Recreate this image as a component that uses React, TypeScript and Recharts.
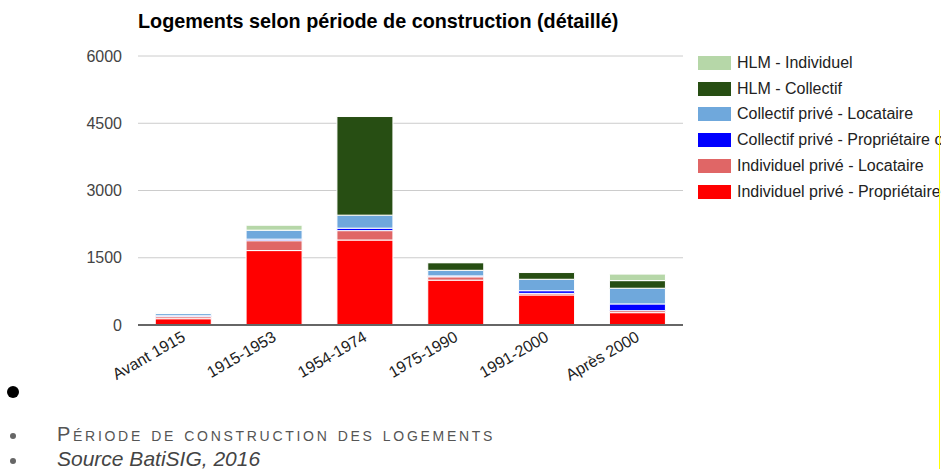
import { BarChart, Bar, XAxis, YAxis, CartesianGrid } from "recharts";

const periodes = ["Avant 1915", "1915-1953", "1954-1974", "1975-1990", "1991-2000", "Après 2000"];

const indivProprio = [140, 1660, 1895, 1000, 670, 275];
const indivLocataire = [45, 220, 210, 75, 35, 45];
const collectifProprio = [20, 35, 55, 20, 60, 150];
const collectifLocataire = [50, 200, 290, 125, 255, 350];
const hlmCollectif = [0, 0, 2200, 170, 150, 170];
const hlmIndividuel = [20, 110, 0, 10, 0, 145];

const yTicks = [0, 1500, 3000, 4500, 6000];

const series = [
  { key: "indivProprio", name: "Individuel privé - Propriétaire occupant", color: "#ff0000", values: indivProprio },
  { key: "indivLocataire", name: "Individuel privé - Locataire", color: "#e06666", values: indivLocataire },
  { key: "collectifProprio", name: "Collectif privé - Propriétaire occupant", color: "#0000ff", values: collectifProprio },
  { key: "collectifLocataire", name: "Collectif privé - Locataire", color: "#6fa8dc", values: collectifLocataire },
  { key: "hlmCollectif", name: "HLM - Collectif", color: "#274e13", values: hlmCollectif },
  { key: "hlmIndividuel", name: "HLM - Individuel", color: "#b6d7a8", values: hlmIndividuel },
];

const data = periodes.map((p, i) => {
  const row: any = { periode: p };
  series.forEach((s) => {
    row[s.key] = s.values[i];
  });
  return row;
});

const font = "Arial, 'Liberation Sans', sans-serif";

function XTick({ x, y, payload }: any) {
  const tx = x + 3;
  const ty = y + 7;
  return (
    <text
      x={tx}
      y={ty}
      transform={`rotate(-30 ${tx} ${ty})`}
      textAnchor="end"
      fontSize={16}
      fontFamily={font}
      fill="#222"
    >
      {payload.value}
    </text>
  );
}

function LegendBox() {
  const items = [...series].reverse();
  return (
    <div style={{ fontFamily: font, fontSize: 16, color: "#222" }}>
      {items.map((s) => (
        <div
          key={s.key}
          style={{ display: "flex", alignItems: "center", height: 25.8, whiteSpace: "nowrap" }}
        >
          <span
            style={{
              display: "inline-block",
              width: 33,
              height: 14,
              background: s.color,
              marginRight: 6,
              flexShrink: 0,
            }}
          />
          {s.name}
        </div>
      ))}
    </div>
  );
}

export default function App() {
  return (
    <div
      style={{
        position: "absolute",
        left: 0,
        top: 0,
        width: 941,
        height: 469,
        overflow: "hidden",
        background: "#fff",
        fontFamily: font,
      }}
    >
      <div
        style={{
          position: "absolute",
          left: 138,
          top: 10,
          fontSize: 19.8,
          fontWeight: "bold",
          color: "#000",
          whiteSpace: "nowrap",
        }}
      >
        Logements selon période de construction (détaillé)
      </div>

      <div style={{ position: "absolute", left: 0, top: 0 }}>
        <BarChart
          width={941}
          height={420}
          data={data}
          margin={{ top: 56, right: 258, bottom: 40, left: 0 }}
          barCategoryGap="19%"
        >
          <CartesianGrid vertical={false} stroke="#cccccc" />
          <XAxis
            dataKey="periode"
            tick={<XTick />}
            tickLine={false}
            axisLine={{ stroke: "#666", strokeWidth: 2 }}
            interval={0}
            height={55}
          />
          <YAxis
            width={138}
            domain={[0, 6000]}
            ticks={yTicks}
            tickLine={false}
            axisLine={false}
            tickSize={16}
            tickMargin={0}
            tick={{ fontSize: 16, fill: "#444", fontFamily: font }}
          />
          {series.map((s) => (
            <Bar
              key={s.key}
              dataKey={s.key}
              name={s.name}
              stackId="a"
              fill={s.color}
              stroke="#fff"
              strokeWidth={1}
              isAnimationActive={false}
            />
          ))}
        </BarChart>
      </div>

      <div style={{ position: "absolute", left: 698, top: 50, width: 243, overflow: "hidden" }}>
        <LegendBox />
      </div>

      <div
        style={{
          position: "absolute",
          left: 7,
          top: 386,
          width: 12,
          height: 12,
          borderRadius: 6,
          background: "#000",
        }}
      />
      <div
        style={{
          position: "absolute",
          left: 10,
          top: 433,
          width: 6,
          height: 6,
          borderRadius: 3,
          background: "#666",
        }}
      />
      <div
        style={{
          position: "absolute",
          left: 57,
          top: 423,
          fontSize: 20,
          letterSpacing: 2.7,
          fontVariant: "small-caps",
          color: "#555",
          whiteSpace: "nowrap",
        }}
      >
        Période de construction des logements
      </div>
      <div
        style={{
          position: "absolute",
          left: 10,
          top: 458,
          width: 6,
          height: 6,
          borderRadius: 3,
          background: "#666",
        }}
      />
      <div
        style={{
          position: "absolute",
          left: 57,
          top: 447,
          fontSize: 21,
          fontStyle: "italic",
          color: "#444",
          whiteSpace: "nowrap",
        }}
      >
        Source BatiSIG, 2016
      </div>
      <div
        style={{ position: "absolute", left: 939, top: 110, width: 1, height: 359, background: "#ffff00" }}
      />
    </div>
  );
}
